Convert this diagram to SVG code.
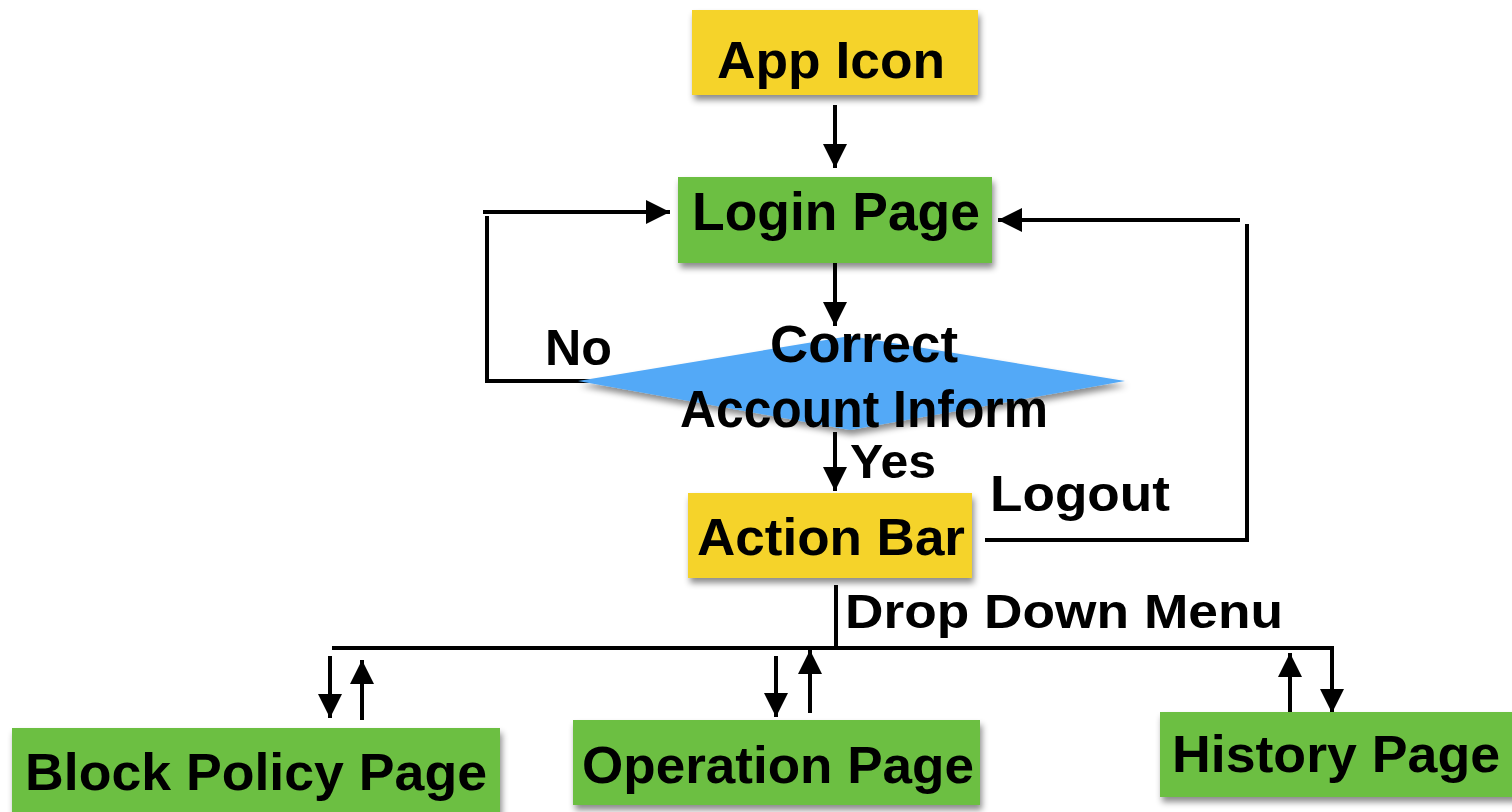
<svg xmlns="http://www.w3.org/2000/svg" width="1512" height="812" viewBox="0 0 1512 812">
<style>
.t{font-family:"Liberation Sans",Arial,sans-serif;font-weight:bold;fill:#000}
.ln{stroke:#000;stroke-width:4;fill:none}
.y{fill:#F5D329}
.g{fill:#6CBF43}
.b{fill:#52A9F7}
</style>
<defs>
<filter id="sh" x="-10%" y="-20%" width="120%" height="150%">
<feDropShadow dx="2" dy="5" stdDeviation="3" flood-color="#000" flood-opacity="0.45"/>
</filter>
<marker id="ah" viewBox="0 0 10 10" refX="10" refY="5" markerWidth="6" markerHeight="6" markerUnits="strokeWidth" orient="auto">
<path d="M0,0 L10,5 L0,10 Z" fill="#000"/>
</marker>
</defs>
<rect width="1512" height="812" fill="#fff"/>
<g id="connectors">
<line class="ln" x1="835" y1="105" x2="835" y2="168" marker-end="url(#ah)"/>
<line class="ln" x1="835" y1="263" x2="835" y2="326" marker-end="url(#ah)"/>
<polyline class="ln" points="628,381 487,381 487,216"/>
<line class="ln" x1="483" y1="212" x2="670" y2="212" marker-end="url(#ah)"/>
<line class="ln" x1="835" y1="432" x2="835" y2="491" marker-end="url(#ah)"/>
<polyline class="ln" points="985,540 1247,540 1247,224"/>
<line class="ln" x1="1240" y1="220" x2="998" y2="220" marker-end="url(#ah)"/>
<line class="ln" x1="836" y1="585" x2="836" y2="646"/>
<polyline class="ln" points="332,648 1332,648 1332,713" marker-end="url(#ah)"/>
<line class="ln" x1="330" y1="656" x2="330" y2="718" marker-end="url(#ah)"/>
<line class="ln" x1="362" y1="720" x2="362" y2="660" marker-end="url(#ah)"/>
<line class="ln" x1="776" y1="656" x2="776" y2="717" marker-end="url(#ah)"/>
<line class="ln" x1="810" y1="713" x2="810" y2="650" marker-end="url(#ah)"/>
<line class="ln" x1="1290" y1="712" x2="1290" y2="653" marker-end="url(#ah)"/>
</g>
<g id="app-icon">
<rect class="y" x="692" y="10" width="286" height="85" filter="url(#sh)"/>
<text class="t" x="831" y="78" font-size="52" text-anchor="middle" textLength="228" lengthAdjust="spacingAndGlyphs">App Icon</text>
</g>
<g id="login-page">
<rect class="g" x="678" y="177" width="314" height="86" filter="url(#sh)"/>
<text class="t" x="836" y="230" font-size="53" text-anchor="middle" textLength="288" lengthAdjust="spacingAndGlyphs">Login Page</text>
</g>
<g id="decision">
<polygon class="b" points="578,381 850,336 1125,381 850,430" filter="url(#sh)"/>
<text class="t" x="864" y="362" font-size="51" text-anchor="middle" textLength="188" lengthAdjust="spacingAndGlyphs">Correct</text>
<text class="t" x="864" y="427" font-size="51" text-anchor="middle" textLength="368" lengthAdjust="spacingAndGlyphs">Account Inform</text>
</g>
<g id="labels">
<text class="t" x="545" y="365" font-size="50" textLength="67" lengthAdjust="spacingAndGlyphs">No</text>
<text class="t" x="850" y="478" font-size="49" textLength="86" lengthAdjust="spacingAndGlyphs">Yes</text>
<text class="t" x="990" y="511" font-size="50" textLength="180" lengthAdjust="spacingAndGlyphs">Logout</text>
<text class="t" x="845" y="628" font-size="49" textLength="438" lengthAdjust="spacingAndGlyphs">Drop Down Menu</text>
</g>
<g id="action-bar">
<rect class="y" x="688" y="493" width="284" height="85" filter="url(#sh)"/>
<text class="t" x="831" y="555" font-size="52" text-anchor="middle" textLength="268" lengthAdjust="spacingAndGlyphs">Action Bar</text>
</g>
<g id="block-policy-page">
<rect class="g" x="12" y="728" width="488" height="90" filter="url(#sh)"/>
<text class="t" x="256" y="790" font-size="52" text-anchor="middle" textLength="462" lengthAdjust="spacingAndGlyphs">Block Policy Page</text>
</g>
<g id="operation-page">
<rect class="g" x="573" y="720" width="407" height="85" filter="url(#sh)"/>
<text class="t" x="778" y="783" font-size="52" text-anchor="middle" textLength="392" lengthAdjust="spacingAndGlyphs">Operation Page</text>
</g>
<g id="history-page">
<rect class="g" x="1160" y="712" width="360" height="85" filter="url(#sh)"/>
<text class="t" x="1336" y="772" font-size="52" text-anchor="middle" textLength="328" lengthAdjust="spacingAndGlyphs">History Page</text>
</g>
</svg>
